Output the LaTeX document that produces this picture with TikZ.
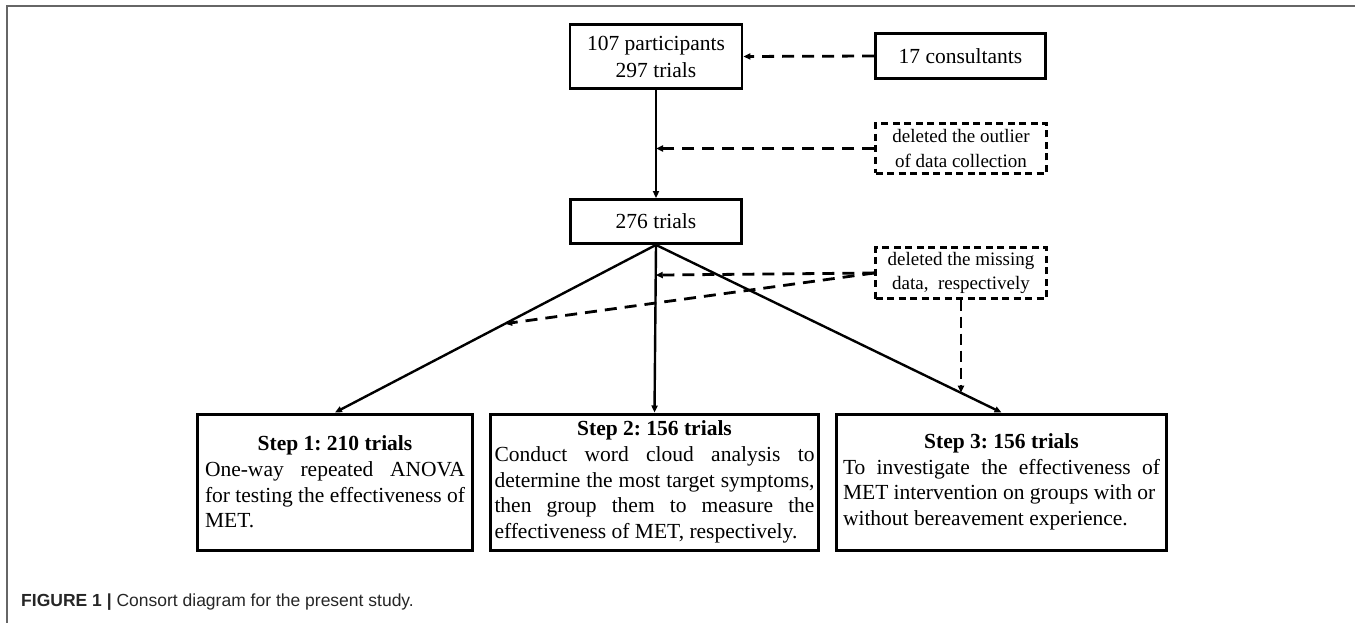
\documentclass[tikz,border=0pt]{standalone}
\usepackage{fontspec}
\setmainfont{Liberation Serif}
\newfontfamily\capfont{Liberation Sans}
\usetikzlibrary{arrows.meta,calc}
\frenchspacing
\begin{document}
\begin{tikzpicture}[x=1pt,y=-1pt,
  solidbox/.style={draw, line width=2.8pt, inner sep=0pt, align=center, font=\fontsize{21.5}{27}\selectfont},
  dashbox/.style={draw, line width=2.4pt, dash pattern=on 7pt off 4.5pt, inner sep=0pt, align=center, font=\fontsize{19}{24.5}\selectfont},
  stepbox/.style={draw, line width=3pt, inner sep=0pt, minimum height=136pt, align=left, font=\fontsize{21.5}{25.6}\selectfont},
  tip/.style={-{Triangle[length=7pt,width=6pt]}},
  flow/.style={tip, line width=2.4pt},
  dflow/.style={tip, line width=2.8pt, dash pattern=on 12pt off 8pt},
  tdflow/.style={tip, line width=1.8pt, dash pattern=on 11pt off 6pt},
  frame/.style={line width=2pt, gray!80!black}
]
\useasboundingbox (0,0) rectangle (1355,623);
\draw[frame] (7,623) -- (7,6) -- (1355,6);

\node[solidbox, minimum width=172pt, minimum height=64pt] (A) at (656,56.5) {107 participants\\297 trials};
\node[solidbox, minimum width=170pt, minimum height=45pt] (B) at (960.5,56) {17 consultants};
\node[dashbox, minimum width=171pt, minimum height=50pt] (C) at (961,148.5) {deleted the outlier\\of data collection};
\node[solidbox, minimum width=171pt, minimum height=44pt] (D) at (656,221.5) {276 trials};
\node[dashbox, minimum width=171pt, minimum height=51pt] (E) at (961,273) {deleted the missing\\data,\ \ respectively};

\node[stepbox, minimum width=275pt] (S1) at (335,482) {\makebox[260pt]{\textbf{Step 1: 210 trials}}\\\makebox[260pt][s]{One-way repeated ANOVA}\\\makebox[260pt][s]{for testing the effectiveness of}\\MET.};
\node[stepbox, minimum width=328pt] (S2) at (654.5,482) {\makebox[320pt]{\textbf{Step 2: 156 trials}}\\\makebox[320pt][s]{Conduct word cloud analysis to}\\\makebox[320pt][s]{determine the most target symptoms,}\\\makebox[320pt][s]{then group them to measure the}\\effectiveness of MET, respectively.};
\node[stepbox, minimum width=330pt] (S3) at (1001.5,482) {\makebox[317pt]{\textbf{Step 3: 156 trials}}\\\makebox[317pt][s]{To investigate the effectiveness of}\\MET intervention on groups with or\\without bereavement experience.};

\node[anchor=west, inner sep=0pt, text=black!85, font=\capfont\fontsize{17.5}{20}\selectfont] (cap) at (21,602) {\textbf{FIGURE 1 |} Consort diagram for the present study.};

% connectors
\draw[flow] (A.south) -- (D.north);
\draw[dflow] (B.west) -- (A.east);
\coordinate (c1) at (A.south |- C.west);
\draw[dflow] (C.west) -- (c1);

\draw[flow] (D.south) -- (S1.north);
\draw[flow] (D.south) -- (S2.north);
\draw[flow] (D.south) -- (S3.north);

\coordinate (p1) at ($(D.south)!0.47!(S1.north)$);
\coordinate (p2) at ($(D.south)!0.18!(S2.north)$);
\path (D.south) -- (S3.north) coordinate[pos=0.882] (p3);
\coordinate (p3v) at (E.south |- p3);
\draw[dflow] (E.west) -- (p2);
\draw[dflow] (E.west) -- (p1);
\draw[tdflow] (E.south) -- (p3v);
\end{tikzpicture}
\end{document}
